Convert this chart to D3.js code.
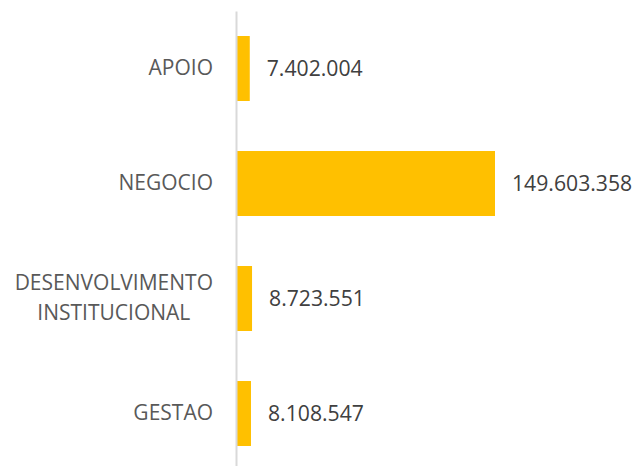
<!DOCTYPE html>
<html>
<head>
    <meta charset="utf-8">
    <title>Bar chart</title>
    <script src="https://d3js.org/d3.v7.min.js"></script>
    <style>
        body { margin: 0; background: #fff; }
    </style>
</head>
<body>
<script>
    var width = 635, height = 466;

    // data
    var categories = ["APOIO", "NEGOCIO", "DESENVOLVIMENTO INSTITUCIONAL", "GESTAO"];
    var categoryLines = [["APOIO"], ["NEGOCIO"], ["DESENVOLVIMENTO", "INSTITUCIONAL"], ["GESTAO"]];
    var values = [7402004, 149603358, 8723551, 8108547];

    var fmt = d3.formatLocale({decimal: ",", thousands: ".", grouping: [3], currency: ["R$", ""]}).format(",d");

    var svg = d3.select("body").append("svg")
        .attr("width", width)
        .attr("height", height);

    var x = d3.scaleLinear()
        .domain([0, d3.max(values)])
        .range([237, 495]);

    var y = d3.scaleBand()
        .domain(categories)
        .range([11, 471])
        .paddingInner(0.435)
        .paddingOuter(0.2175);

    // bars
    svg.selectAll("rect.bar")
        .data(values)
        .join("rect")
        .attr("class", "bar")
        .attr("x", x(0))
        .attr("y", function(d, i) { return y(categories[i]); })
        .attr("width", function(d) { return x(d) - x(0); })
        .attr("height", y.bandwidth())
        .attr("fill", "#FFC000");

    // value labels
    svg.selectAll("text.val")
        .data(values)
        .join("text")
        .attr("class", "val")
        .attr("x", function(d) { return x(d) + 17; })
        .attr("y", function(d, i) { return y(categories[i]) + y.bandwidth() / 2; })
        .attr("dy", "0.36em")
        .attr("font-family", "'Open Sans', sans-serif")
        .attr("font-size", "21.2px")
        .attr("fill", "#404040")
        .text(function(d) { return fmt(d); });

    // category axis
    var axis = svg.append("g")
        .attr("transform", "translate(236,0)")
        .call(d3.axisLeft(y).tickSize(0).tickPadding(23).tickSizeOuter(0));

    axis.select(".domain")
        .attr("stroke", "#D9D9D9")
        .attr("stroke-width", 2);

    var fs = 21;
    axis.selectAll(".tick text")
        .attr("font-family", "'Open Sans', sans-serif")
        .attr("font-size", fs + "px")
        .attr("fill", "#595959")
        .each(function(d, i) {
            var t = d3.select(this);
            var lines = categoryLines[categories.indexOf(d)];
            if (lines.length < 2) return;
            t.text(null);
            var lh = 30.5;
            var spans = lines.map(function(l, k) {
                return t.append("tspan")
                    .attr("dy", k === 0 ? (0.32 - (lines.length - 1) * lh / 2 / fs) + "em" : lh + "px")
                    .text(l);
            });
            var widths = spans.map(function(s) { return s.node().getComputedTextLength(); });
            var maxW = d3.max(widths);
            var cx = -23 - maxW / 2;
            t.attr("dy", null).attr("text-anchor", "middle");
            spans.forEach(function(s) { s.attr("x", cx); });
        });
</script>
</body>
</html>
